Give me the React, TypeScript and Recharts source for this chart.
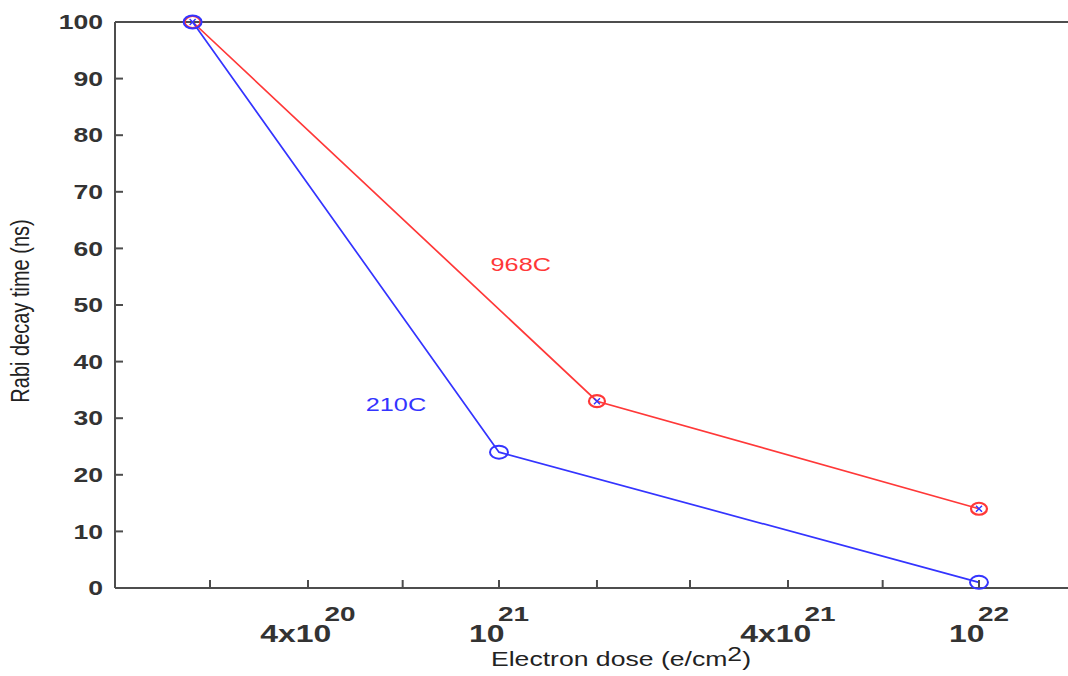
import * as React from "react";
import { LineChart, Line, XAxis, YAxis, ReferenceDot } from "recharts";

// electron dose (e/cm^2) vs Rabi decay time (ns)
const dose968 = [2.3e20, 1.6e21, 1e22];
const decay968 = [100, 33, 14];
const dose210 = [2.3e20, 1e21, 1e22];
const decay210 = [100, 24, 1];

const xTicks = [2.5e20, 4e20, 6.3e20, 1e21, 1.6e21, 2.5e21, 4e21, 6.3e21, 1e22];
const xTickBase = ["", "4x10", "", "10", "", "", "4x10", "", "10"];
const xTickExp = ["", "20", "", "21", "", "", "21", "", "22"];
const yTicks = [0, 10, 20, 30, 40, 50, 60, 70, 80, 90, 100];

const seriesNames = ["968C", "210C"];
const labelDose = [1.11e21, 6.1e20];
const labelDecay = [57.3, 32.4];

const red = "#ff3838";
const blue = "#3434ff";
const axisColor = "#4d4d4d";
const font = "'Liberation Sans', Arial, sans-serif";
const stretch = 1.33;

const data968 = dose968.map((d, i) => ({ dose: d, t: decay968[i] }));
const data210 = dose210.map((d, i) => ({ dose: d, t: decay210[i] }));

const YTick = (props: any) => {
	const { x, y, payload } = props;
	return <g transform={`translate(${x},${y}) scale(${stretch},1)`}>
		<text textAnchor="end" dy="0.36em" fontSize={20} fontWeight="bold" fill="#333" fontFamily={font}>{payload.value}</text>
	</g>
}

const XTick = (props: any) => {
	const { x, y, payload } = props;
	const i = xTicks.indexOf(payload.value);
	if (i < 0 || !xTickBase[i]) return <g />;
	return <g transform={`translate(${x},${y}) scale(${stretch},1)`}>
		<text textAnchor="middle" y={54} fill="#333" fontWeight="bold" fontFamily={font}>
			<tspan fontSize={24}>{xTickBase[i]}</tspan>
			<tspan fontSize={21} dx={-5} dy={-21}>{xTickExp[i]}</tspan>
		</text>
	</g>
}

const NoTick = () => <g />;

const RedDot = (props: any) => {
	const { cx, cy } = props;
	return <g>
		<ellipse cx={cx} cy={cy} rx={8} ry={6} fill="none" stroke={red} strokeWidth={2.2} />
		<path d={`M${cx - 3},${cy - 3}L${cx + 3},${cy + 3}M${cx - 3},${cy + 3}L${cx + 3},${cy - 3}`} stroke={blue} strokeWidth={1.4} />
	</g>
}

const BlueDot = (props: any) => {
	const { cx, cy } = props;
	return <ellipse cx={cx} cy={cy} rx={9} ry={6.5} fill="none" stroke={blue} strokeWidth={2} />
}

const seriesLabel = (text: string, color: string) => (p: any) =>
	<g transform={`translate(${p.cx},${p.cy}) scale(${stretch},1)`}>
		<text textAnchor="middle" dy="0.36em" fontSize={19} fill={color} fontFamily={font}>{text}</text>
	</g>

const XLabel = (props: any) => {
	const vb = props.viewBox;
	const cx = vb.x + vb.width / 2 + 26;
	return <g transform={`translate(${cx},${vb.y + 78}) scale(${stretch},1)`}>
		<text textAnchor="middle" fontSize={20} fill="#222" fontFamily={font}>
			<tspan>Electron dose (e/cm</tspan>
			<tspan dy={-5}>2</tspan>
			<tspan dy={5}>)</tspan>
		</text>
	</g>
}

const YLabel = (props: any) => {
	const vb = props.viewBox;
	const cy = vb.y + vb.height / 2 + 6;
	return <g transform={`translate(${vb.x + 29},${cy}) scale(${stretch},1) rotate(-90)`}>
		<text textAnchor="middle" fontSize={20} fill="#222" fontFamily={font}>Rabi decay time (ns)</text>
	</g>
}

const App: React.FC = () => {
	return <div style={{ position: "absolute", left: 0, top: 0, width: 1068, height: 676, overflow: "hidden", background: "#fff" }}>
		<LineChart width={1080} height={676} margin={{ top: 21, right: 4, bottom: 8, left: 0 }}>
			<XAxis
				dataKey="dose"
				type="number"
				scale="log"
				domain={[1.585e20, 1.585e22]}
				allowDataOverflow
				ticks={xTicks}
				interval={0}
				height={80}
				tickSize={-8}
				tickMargin={8}
				tick={XTick}
				stroke={axisColor}
				strokeWidth={2}
				label={{ content: XLabel }}
			/>
			<XAxis
				xAxisId="top"
				orientation="top"
				type="number"
				scale="log"
				domain={[1.585e20, 1.585e22]}
				allowDataOverflow
				ticks={xTicks}
				interval={0}
				height={1}
				tickSize={-8}
				tick={NoTick}
				stroke={axisColor}
				strokeWidth={2}
			/>
			<YAxis
				type="number"
				domain={[0, 100]}
				ticks={yTicks}
				interval={0}
				width={115}
				tickSize={-8}
				tickMargin={20}
				tick={YTick}
				stroke={axisColor}
				strokeWidth={2}
				label={{ content: YLabel }}
			/>
			<YAxis
				yAxisId="right"
				orientation="right"
				type="number"
				domain={[0, 100]}
				ticks={yTicks}
				interval={0}
				width={1}
				tickSize={-8}
				tick={NoTick}
				stroke={axisColor}
				strokeWidth={2}
			/>
			<Line data={data968} dataKey="t" stroke={red} strokeWidth={1.7} dot={RedDot} isAnimationActive={false} />
			<Line data={data210} dataKey="t" stroke={blue} strokeWidth={1.7} dot={BlueDot} isAnimationActive={false} />
			<ReferenceDot x={labelDose[0]} y={labelDecay[0]} r={0} shape={seriesLabel(seriesNames[0], red)} />
			<ReferenceDot x={labelDose[1]} y={labelDecay[1]} r={0} shape={seriesLabel(seriesNames[1], blue)} />
		</LineChart>
	</div>
}

export default App;
